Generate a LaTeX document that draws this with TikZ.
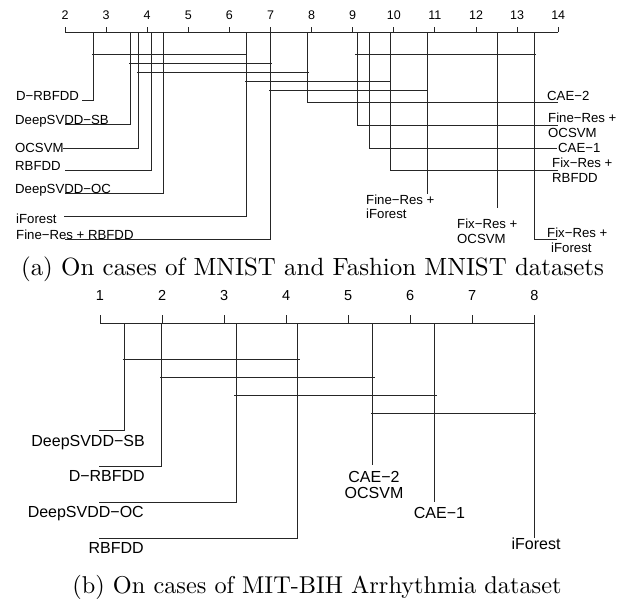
\documentclass[tikz,border=0pt]{standalone}
\usepackage{fontspec}
\newfontfamily\labfont{Liberation Sans}
\newfontfamily\capfont{lmroman10-regular.otf}
\begin{document}
\begin{tikzpicture}[x=1bp,y=-1bp,
  ln/.style={draw=black!85,line width=1bp},
  labA/.style={font=\labfont\fontsize{13.2bp}{15bp}\selectfont,inner sep=0pt},
  labB/.style={font=\labfont\fontsize{16bp}{18bp}\selectfont,inner sep=0pt},
  tickA/.style={font=\labfont\fontsize{12.5bp}{14bp}\selectfont,inner sep=0pt,anchor=base},
  tickB/.style={font=\labfont\fontsize{14.5bp}{16bp}\selectfont,inner sep=0pt,anchor=base},
  capt/.style={font=\capfont\fontsize{25pt}{30pt}\selectfont,inner sep=0pt,anchor=base}]
\useasboundingbox (0,0) rectangle (636,603);

% ---------------- (a) ----------------
\draw[ln] (65,32.5) -- (558,32.5);
\foreach \v in {2,...,14}{
  \pgfmathsetmacro{\xx}{65+(\v-2)*41.1}
  \draw[ln] (\xx,32.5) -- (\xx,27.5);
  \node[tickA] (ta\v) at (\xx,20) {\v};
}
% left group verticals
\draw[ln] (93,32.5) -- (93,101) -- (82,101);
\draw[ln] (130.3,32.5) -- (130.3,125) -- (65,125);
\draw[ln] (138.3,32.5) -- (138.3,148.3) -- (63,148.3);
\draw[ln] (151,32.5) -- (151,170.7) -- (65,170.7);
\draw[ln] (163.3,32.5) -- (163.3,193.3) -- (65,193.3);
\draw[ln] (246,32.5) -- (246,216) -- (64,216);
\draw[ln] (270,32.5) -- (270,239.3) -- (65,239.3);
% right group verticals
\draw[ln] (307.3,32.5) -- (307.3,102.3) -- (558,102.3);
\draw[ln] (357.3,32.5) -- (357.3,125.3) -- (558,125.3);
\draw[ln] (369.3,32.5) -- (369.3,148.3) -- (556.7,148.3);
\draw[ln] (390,32.5) -- (390,171) -- (558,171);
\draw[ln] (427,32.5) -- (427,194);
\draw[ln] (497,32.5) -- (497,208.3);
\draw[ln] (534.3,32.5) -- (534.3,239.5) -- (557,239.5);
% clique bars
\draw[ln] (92,54.3) -- (247,54.3);
\draw[ln] (355,54.3) -- (536,54.3);
\draw[ln] (129,63.3) -- (272,63.3);
\draw[ln] (137,72.3) -- (309,72.3);
\draw[ln] (245,81.7) -- (391,81.7);
\draw[ln] (269,90.7) -- (428,90.7);
% left labels
\node[labA,anchor=base west] (a1) at (16,101) {D−RBFDD};
\node[labA,anchor=base west] (a2) at (15,125) {DeepSVDD−SB};
\node[labA,anchor=base west] (a3) at (15,153) {OCSVM};
\node[labA,anchor=base west] (a4) at (15,171) {RBFDD};
\node[labA,anchor=base west] (a5) at (15,193) {DeepSVDD−OC};
\node[labA,anchor=base west] (a6) at (16,223) {iForest};
\node[labA,anchor=base west] (a7) at (16,239) {Fine−Res + RBFDD};
% right labels
\node[labA,anchor=base west] (a8) at (547,101) {CAE−2};
\node[labA,anchor=base west] (a9) at (548,123) {Fine−Res +};
\node[labA,anchor=base west] (a9b) at (548,137.5) {OCSVM};
\node[labA,anchor=base west] (a10) at (558,153) {CAE−1};
\node[labA,anchor=base west] (a11) at (552,168) {Fix−Res +};
\node[labA,anchor=base west] (a11b) at (552,183) {RBFDD};
\node[labA,anchor=base west] (a12) at (366,204) {Fine−Res +};
\node[labA,anchor=base west] (a12b) at (366,218.5) {iForest};
\node[labA,anchor=base west] (a13) at (457,228) {Fix−Res +};
\node[labA,anchor=base west] (a13b) at (457,243) {OCSVM};
\node[labA,anchor=base west] (a14) at (547,237) {Fix−Res +};
\node[labA,anchor=base west] (a14b) at (551,252) {iForest};
\node[capt] (capa) at (312.5,275.5) {(a) On cases of MNIST and Fashion MNIST datasets};

% ---------------- (b) ----------------
\draw[ln] (100,323.3) -- (534.3,323.3);
\foreach \v in {1,...,8}{
  \pgfmathsetmacro{\xx}{100+(\v-1)*62.04}
  \draw[ln] (\xx,323.3) -- (\xx,315);
  \node[tickB] (tb\v) at (\xx,300) {\v};
}
\draw[ln] (124.3,323.3) -- (124.3,430.7) -- (99.3,430.7);
\draw[ln] (161.7,323.3) -- (161.7,466.7) -- (99.3,466.7);
\draw[ln] (236.3,323.3) -- (236.3,502.3) -- (99.3,502.3);
\draw[ln] (297.7,323.3) -- (297.7,538.3) -- (99.3,538.3);
\draw[ln] (372.7,323.3) -- (372.7,465);
\draw[ln] (434.7,323.3) -- (434.7,502);
\draw[ln] (534.3,323.3) -- (534.3,538);
% clique bars
\draw[ln] (122.7,359.3) -- (300,359.3);
\draw[ln] (160,377.3) -- (375,377.3);
\draw[ln] (234.3,395.3) -- (436.7,395.3);
\draw[ln] (371,413.3) -- (536,413.3);
% labels
\node[labB,anchor=base east] (b1) at (145,446) {DeepSVDD−SB};
\node[labB,anchor=base east] (b2) at (145,481) {D−RBFDD};
\node[labB,anchor=base east] (b3) at (144,517) {DeepSVDD−OC};
\node[labB,anchor=base east] (b4) at (144,553) {RBFDD};
\node[labB,anchor=base] (b5) at (374,482.5) {CAE−2};
\node[labB,anchor=base] (b5b) at (374,498) {OCSVM};
\node[labB,anchor=base] (b6) at (439.5,518) {CAE−1};
\node[labB,anchor=base] (b7) at (536,549.5) {iForest};
\node[capt,font=\capfont\fontsize{24.4pt}{29pt}\selectfont] (capb) at (317,593) {(b) On cases of MIT-BIH Arrhythmia dataset};
\end{tikzpicture}
\end{document}
